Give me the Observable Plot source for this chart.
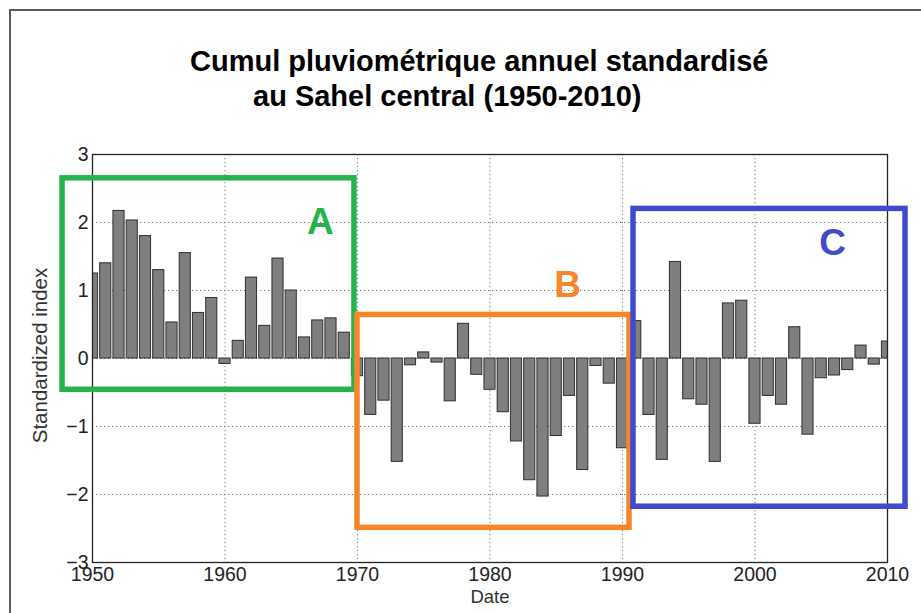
<!DOCTYPE html>
<html>
<head>
<meta charset="utf-8">
<script src="https://cdn.jsdelivr.net/npm/d3@7"></script>
<script src="https://cdn.jsdelivr.net/npm/@observablehq/plot@0.6"></script>
<style>
  html, body { margin: 0; padding: 0; background: #fff; }
  #wrap { position: relative; width: 921px; height: 613px; overflow: hidden; font-family: "Liberation Sans", Arial, sans-serif; }
  #border { position: absolute; left: 9px; top: 9px; width: 930px; height: 630px; border-left: 2px solid #5a5a5a; border-top: 2px solid #5a5a5a; }
  .title { position: absolute; font-weight: bold; font-size: 29px; color: #000; white-space: nowrap; line-height: 34px; }
  #chart { position: absolute; left: 0; top: 130px; }
</style>
</head>
<body>
<div id="wrap">
  <div id="border"></div>
  <div class="title" id="t1" style="left:190px; top:44px;">Cumul pluviométrique annuel standardisé</div>
  <div class="title" id="t2" style="left:253px; top:79px;">au Sahel central (1950-2010)</div>
  <div id="chart"></div>
</div>
<script>
// ---- data ----
const years = d3.range(1950, 2011);
const values = [
  1.25, 1.40, 2.17, 2.03, 1.80, 1.30, 0.53, 1.55, 0.67, 0.89,
  -0.08, 0.26, 1.19, 0.48, 1.47, 1.00, 0.31, 0.56, 0.59, 0.38,
  -0.26, -0.83, -0.62, -1.52, -0.10, 0.09, -0.06, -0.63, 0.51, -0.24,
  -0.46, -0.79, -1.22, -1.79, -2.03, -1.14, -0.55, -1.64, -0.11, -0.37,
  -1.32, 0.55, -0.83, -1.49, 1.42, -0.60, -0.68, -1.52, 0.81, 0.85,
  -0.96, -0.55, -0.68, 0.46, -1.12, -0.29, -0.25, -0.17, 0.19, -0.09, 0.25
];
const xTicks = [1950, 1960, 1970, 1980, 1990, 2000, 2010];
const yTicks = [-3, -2, -1, 0, 1, 2, 3];
const xLabel = "Date";
const yLabel = "Standardized index";
// annotated periods (in year / index units)
const periodNames = ["A", "B", "C"];
const periodColors = ["#25b34b", "#f7862a", "#3f4acc"];
const periodX1 = [1947.74, 1970.0, 1990.83];
const periodX2 = [1969.77, 1990.53, 2011.36];
const periodY1 = [2.65, 0.64, 2.20];
const periodY2 = [-0.46, -2.49, -2.18];
const labelYear = [1967.2, 1985.85, 2005.85];
const labelIndex = [2.0, 1.08, 1.70];

const data = years.map((year, i) => ({year, value: values[i]}));
const periods = periodNames.map((name, i) => ({
  name, color: periodColors[i], x1: periodX1[i], x2: periodX2[i], y1: periodY1[i], y2: periodY2[i],
  lx: labelYear[i], ly: labelIndex[i]
}));
const barHalf = 0.42;
const fmt = d3.format("d");
const tickFont = 19.5;

const chart = Plot.plot({
  width: 921,
  height: 483,
  marginLeft: 92,
  marginRight: 34,
  marginTop: 24,
  marginBottom: 51,
  x: {domain: [1950, 2010], axis: null},
  y: {domain: [-3, 3], axis: null},
  style: {fontFamily: "'Liberation Sans', Arial, sans-serif", fontSize: "15px", color: "#222", background: "transparent", overflow: "visible"},
  marks: [
    Plot.gridX(xTicks.slice(1, -1), {stroke: "#777", strokeOpacity: 1, strokeDasharray: "1.2,2.8"}),
    Plot.gridY(yTicks.slice(1, -1), {stroke: "#777", strokeOpacity: 1, strokeDasharray: "1.2,2.8"}),
    Plot.rect(data, {
      x1: d => d.year - barHalf, x2: d => d.year + barHalf,
      y1: 0, y2: "value",
      fill: "#7f7f7f", stroke: "#2e2e2e", strokeWidth: 1, clip: true
    }),
    Plot.frame({stroke: "#222", strokeWidth: 1.3}),
    Plot.text(xTicks, {x: d => d, frameAnchor: "bottom", lineAnchor: "top", dy: 5, text: fmt, fontSize: tickFont, fill: "#222"}),
    Plot.text(yTicks, {y: d => d, frameAnchor: "left", textAnchor: "end", dx: -4, text: fmt, fontSize: tickFont, fill: "#222"}),
    Plot.text([xLabel], {frameAnchor: "bottom", lineAnchor: "top", dy: 27, text: d => d, fontSize: 18.5, fill: "#333"}),
    Plot.text([yLabel], {frameAnchor: "left", textAnchor: "middle", dx: -52, dy: -3, rotate: -90, text: d => d, fontSize: 20.5, fill: "#333"}),
    Plot.rect(periods, {x1: "x1", x2: "x2", y1: "y1", y2: "y2", fill: "none", stroke: "color", strokeWidth: 5.5, clip: false}),
    Plot.text(periods, {x: "lx", y: "ly", text: "name", fill: "color", fontSize: 37, fontWeight: "bold", clip: false})
  ]
});
document.getElementById("chart").appendChild(chart);
</script>
</body>
</html>
